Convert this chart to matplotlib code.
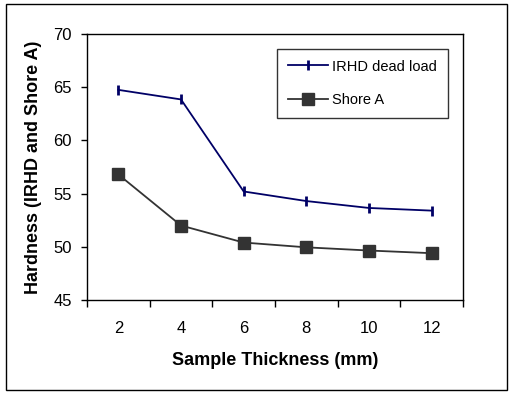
import matplotlib
matplotlib.use("Agg")
import matplotlib.pyplot as plt
from matplotlib.patches import Rectangle

# data
thickness = ["2", "4", "6", "8", "10", "12"]
irhd_dead_load = [64.75, 63.85, 55.2, 54.3, 53.65, 53.4]
shore_a = [56.8, 52.0, 50.4, 49.95, 49.65, 49.4]

plt.rcParams['font.family'] = ['Liberation Sans', 'DejaVu Sans']

fig = plt.figure(figsize=(5.12, 3.93), dpi=100)
ax = fig.add_axes([87 / 512, 1 - 300 / 393, (463 - 87) / 512, (300 - 34) / 393])

# outer chart border
fig.patches.append(Rectangle((6 / 512, 3 / 393), 501 / 512, 386 / 393,
                             transform=fig.transFigure, fill=False,
                             edgecolor='black', linewidth=1.0))

pos = list(range(len(thickness)))
ax.plot(pos, irhd_dead_load, color='#000066', linewidth=1.3, marker='|',
        markersize=7.5, markeredgewidth=2, label='IRHD dead load')
ax.plot(pos, shore_a, color='#333333', linewidth=1.3, marker='s',
        markersize=8, label='Shore A')

ax.set_xlim(-0.5, len(thickness) - 0.5)
ax.set_ylim(45, 70)
ax.set_yticks([45, 50, 55, 60, 65, 70])

# category axis: tick marks on boundaries, labels in the middle
ax.set_xticks([p - 0.5 for p in pos] + [len(thickness) - 0.5])
ax.set_xticklabels([])
ax.set_xticks(pos, minor=True)
ax.set_xticklabels(thickness, minor=True)
ax.tick_params(axis='x', which='minor', length=0, pad=15, labelsize=12)
ax.tick_params(axis='x', which='major', direction='out', length=5, width=1)
ax.tick_params(axis='y', direction='out', length=4, width=1, labelsize=12, pad=7)

for sp in ax.spines.values():
    sp.set_linewidth(1.0)

ax.set_xlabel('Sample Thickness (mm)', fontsize=13, fontweight='bold')
ax.set_ylabel('Hardness (IRHD and Shore A)', fontsize=13, fontweight='bold')
ax.xaxis.set_label_coords(0.501, -0.195)
ax.yaxis.set_label_coords(-0.1436, 0.5)
ax.yaxis.label.set_va('center')

leg = ax.legend(loc='upper right', bbox_to_anchor=(0.960, 0.945), borderaxespad=0,
                fontsize=10.5, frameon=True, fancybox=False, edgecolor='black',
                handlelength=2.7, labelspacing=1.35, borderpad=0.75,
                handletextpad=0.3, numpoints=1)
leg.get_frame().set_linewidth(1.0)

fig.savefig('out.png', dpi=100)
